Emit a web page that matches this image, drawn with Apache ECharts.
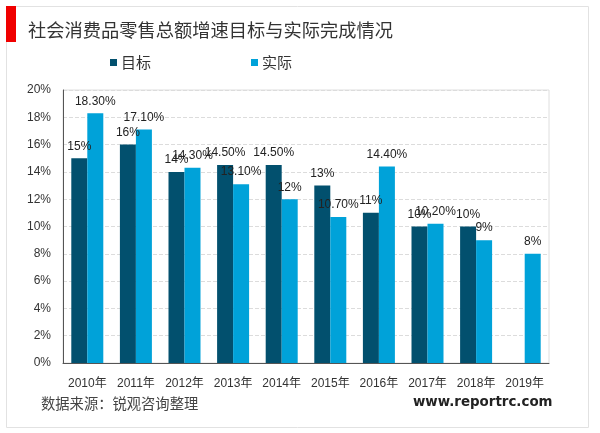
<!DOCTYPE html>
<html lang="zh">
  <head>
    <meta charset="UTF-8">
    <title>社会消费品零售总额增速目标与实际完成情况</title>
    <style>
      html, body { margin: 0; padding: 0; background: #fff; }
    </style>
    <script src="https://cdn.jsdelivr.net/npm/echarts@6/dist/echarts.min.js"></script>
  </head>
  <body>
    <div id="main" style="width: 600px;height:433px;"></div>
    <script type="text/javascript">
      var years = ['2010年', '2011年', '2012年', '2013年', '2014年', '2015年', '2016年', '2017年', '2018年', '2019年'];
      var target = [15, 16, 14, 14.5, 14.5, 13, 11, 10, 10, null];
      var actual = [18.3, 17.1, 14.3, 13.1, 12, 10.7, 14.4, 10.2, 9, 8];

      var cjk = '"Noto Sans CJK SC", sans-serif';
      var latin = '"Liberation Sans", "Noto Sans CJK SC", sans-serif';

      // 整数不带小数，其余保留两位
      function pct(p) {
        var v = p.value;
        return Number.isInteger(v) ? v + '%' : v.toFixed(2) + '%';
      }

      var labelStyle = {
        show: true,
        position: 'top',
        distance: 6,
        color: '#222',
        fontFamily: latin,
        fontSize: 12,
        formatter: pct
      };

      var myChart = echarts.init(document.getElementById('main'));

      myChart.setOption({
        animation: false,
        backgroundColor: '#fff',
        title: [
          {
            text: '社会消费品零售总额增速目标与实际完成情况',
            left: 23, top: 16,
            textStyle: { color: '#333', fontFamily: cjk, fontSize: 18.25, fontWeight: 'normal' }
          },
          {
            text: '数据来源：锐观咨询整理',
            left: 36, top: 391,
            textStyle: { color: '#444', fontFamily: cjk, fontSize: 14.3, fontWeight: 'normal' }
          },
          {
            text: 'www.reportrc.com',
            left: 408, top: 391,
            textStyle: { color: '#222', fontFamily: '"DejaVu Sans", sans-serif', fontSize: 13.4, fontWeight: 'bold' }
          }
        ],
        graphic: [
          { type: 'rect', z: -1, shape: { x: 6.5, y: 6.5, width: 582, height: 421 }, style: { fill: '#fff', stroke: '#e2e2e2', lineWidth: 1 } },
          { type: 'rect', shape: { x: 6, y: 6, width: 10, height: 36 }, style: { fill: '#f00000' } }
        ],
        legend: {
          left: 105,
          top: 50,
          itemWidth: 7,
          itemHeight: 7,
          itemGap: 100,
          icon: 'rect',
          textStyle: { color: '#333', fontFamily: cjk, fontSize: 15, padding: [0, 0, 0, -1] },
          data: ['目标', '实际']
        },
        grid: {
          left: 63, right: 51, top: 90, bottom: 70,
          show: true,
          borderColor: '#dedede',
          borderWidth: 1,
          backgroundColor: 'transparent'
        },
        xAxis: {
          type: 'category',
          data: years,
          axisLine: { lineStyle: { color: '#555', width: 1 } },
          axisTick: { show: false },
          axisLabel: { color: '#333', fontFamily: latin, fontSize: 12, margin: 15, interval: 0 }
        },
        yAxis: {
          type: 'value',
          min: 0,
          max: 20,
          interval: 2,
          axisLine: { show: true, lineStyle: { color: '#555', width: 1 } },
          axisTick: { show: false },
          axisLabel: { color: '#333', fontFamily: latin, fontSize: 12, margin: 12, padding: [2, 0, 0, 0], formatter: '{value}%' },
          splitLine: { lineStyle: { color: '#dcdcdc', type: 'dashed' } }
        },
        series: [
          { name: '目标', type: 'bar', data: target, barWidth: 16, barGap: 0, itemStyle: { color: '#02506e' }, label: labelStyle },
          { name: '实际', type: 'bar', data: actual, barWidth: 16, itemStyle: { color: '#00a2d9' }, label: labelStyle }
        ]
      });
    </script>
  </body>
</html>
